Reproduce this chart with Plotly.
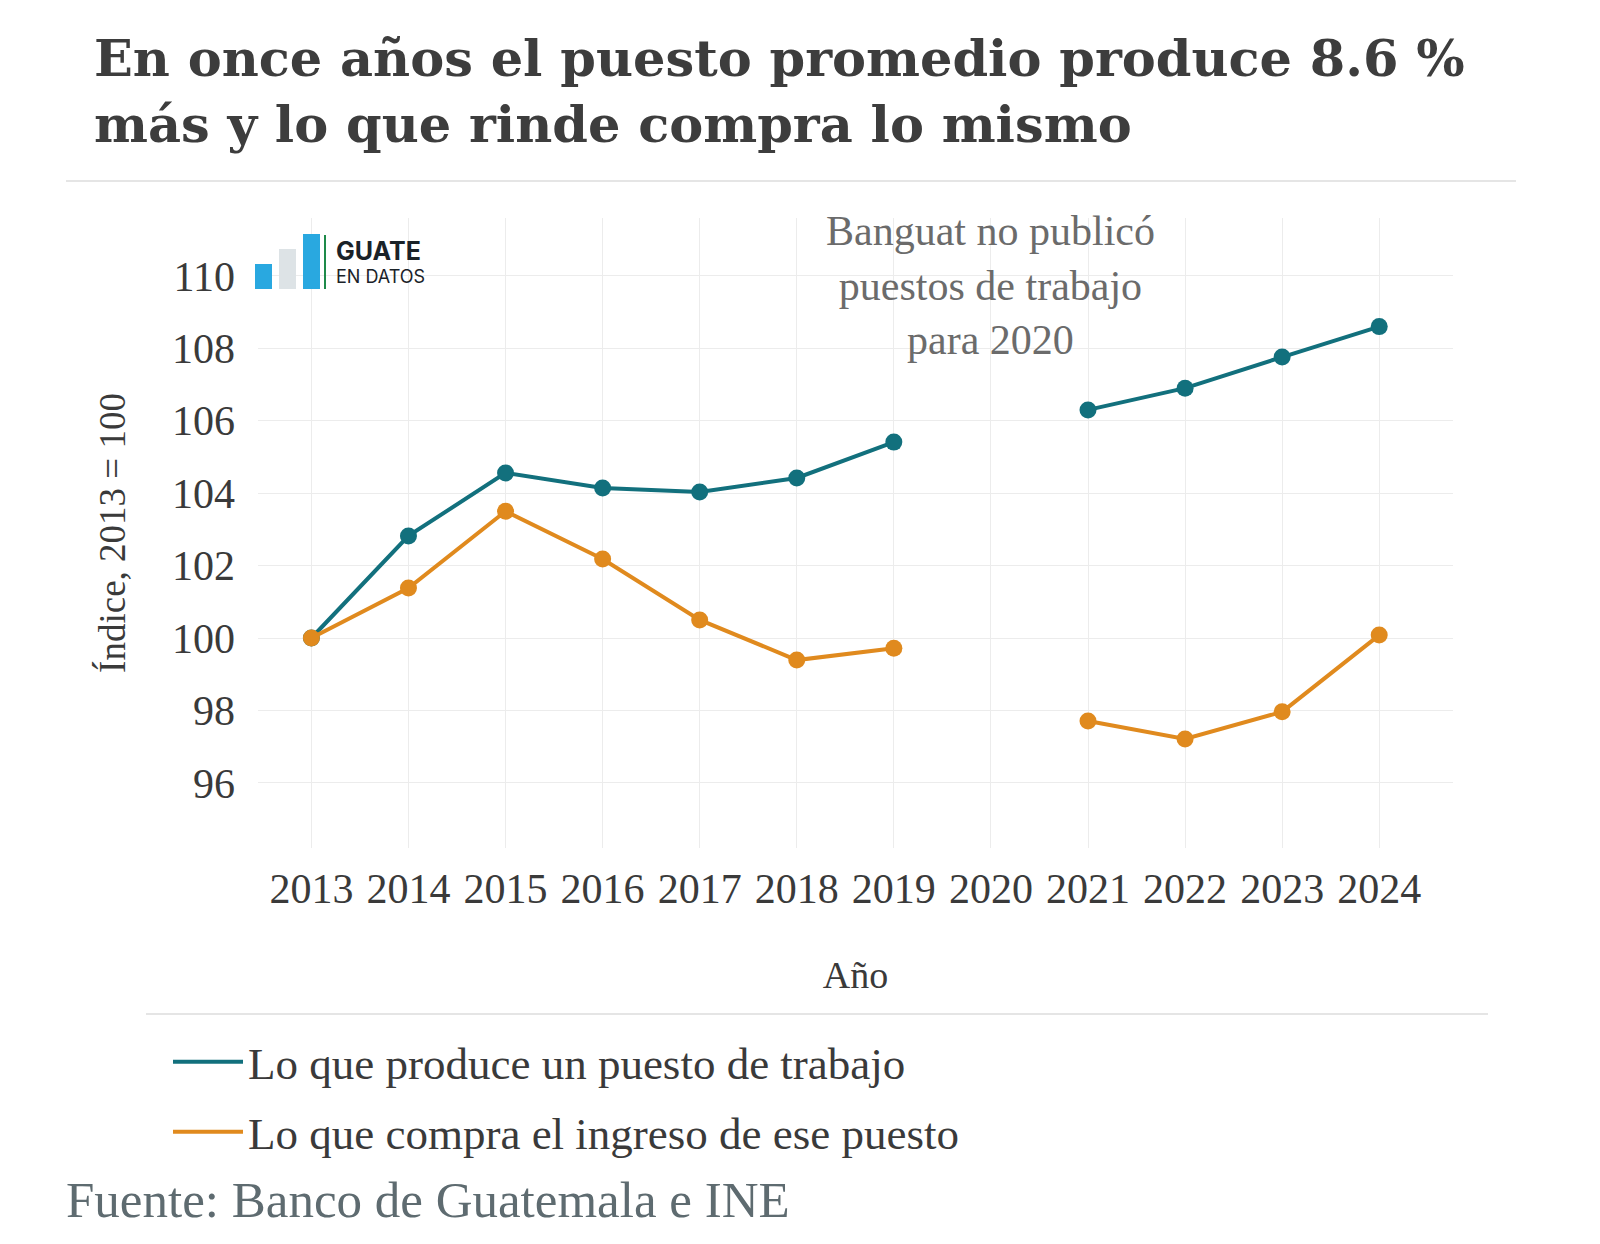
import plotly.graph_objects as go

years = [2013, 2014, 2015, 2016, 2017, 2018, 2019, 2020, 2021, 2022, 2023, 2024]
produce = [100, 102.82, 104.56, 104.14, 104.03, 104.42, 105.41, None, 106.3, 106.9, 107.76, 108.6]
compra = [100, 101.38, 103.5, 102.18, 100.5, 99.39, 99.72, None, 97.71, 97.21, 97.96, 100.08]
yticks = [96, 98, 100, 102, 104, 106, 108, 110]
names = ["Lo que produce un puesto de trabajo", "Lo que compra el ingreso de ese puesto"]
colors = ["#12707d", "#e08a1e"]

F = "Liberation Serif"
L, R, T, B = 250, 1445, 210, 840
def px(x): return (x - L) / (R - L)
def py(y): return (B - y) / (B - T)

fig = go.Figure()
for i, vals in enumerate([produce, compra]):
    fig.add_trace(go.Scatter(x=years, y=vals, mode="lines+markers", showlegend=False,
                             line=dict(color=colors[i], width=4), marker=dict(size=17, color=colors[i])))
    fig.add_trace(go.Scatter(x=[None], y=[None], mode="lines", name=names[i],
                             legend="legend" if i == 0 else "legend2",
                             line=dict(color=colors[i], width=4)))

fig.update_layout(
    width=1600, height=1244, plot_bgcolor="white", paper_bgcolor="white",
    margin=dict(l=L, r=1600 - R, t=T, b=1244 - B),
    font=dict(family=F, size=42, color="#3a3a3a"),
    title=dict(text="<b>En once años el puesto promedio produce 8.6 %<br>más y lo que rinde compra lo mismo</b>",
               x=86 / 1600, xanchor="left", y=1 - 68 / 1244, yanchor="top",
               font=dict(family="DejaVu Serif", size=51, color="#3d3d3d")),
    xaxis=dict(range=[2012.45, 2024.76], tickvals=years, gridcolor="#ececec", showline=False, zeroline=False,
               ticks="", ticklabelstandoff=12,
               title=dict(text="Año", font=dict(size=38), standoff=50)),
    yaxis=dict(range=[94.2, 111.6], tickvals=yticks, gridcolor="#ececec", zeroline=False, ticks="",
               ticklabelstandoff=22,
               title=dict(text="Índice, 2013 = 100", font=dict(size=37), standoff=35)),
    legend=dict(x=px(160), xanchor="left", y=py(1054), yanchor="middle", font=dict(size=45), itemwidth=70),
    legend2=dict(x=px(160), xanchor="left", y=py(1124), yanchor="middle", font=dict(size=45), itemwidth=70),
)
fig.add_annotation(x=2020, y=py(198), xref="x", yref="paper", yanchor="top", showarrow=False,
                   text="Banguat no publicó<br>puestos de trabajo<br>para 2020",
                   font=dict(size=42, color="#6b6b6b"))
fig.add_annotation(x=px(56), y=py(1192), xref="paper", yref="paper", xanchor="left", yanchor="middle",
                   showarrow=False, text="Fuente: Banco de Guatemala e INE",
                   font=dict(size=51, color="#5e6b70"))
fig.add_shape(type="line", xref="paper", yref="paper", x0=px(58), x1=px(1508), y0=py(173), y1=py(173),
              line=dict(color="#dcdcdc", width=1.5))
fig.add_shape(type="line", xref="paper", yref="paper", x0=px(138), x1=px(1480), y0=py(1006), y1=py(1006),
              line=dict(color="#dcdcdc", width=1.5))
def rect(x0, y0, x1, y1, c):
    fig.add_shape(type="rect", xref="paper", yref="paper", x0=px(x0), x1=px(x1), y0=py(y1), y1=py(y0),
                  line=dict(width=0), fillcolor=c)
rect(247, 256, 264, 281, "#29a8e0")
rect(271, 241, 288, 281, "#dde3e6")
rect(295, 226, 312, 281, "#29a8e0")
rect(316, 227, 318, 281, "#1e8a4a")
fig.add_annotation(x=px(326), y=py(243), xref="paper", yref="paper", xanchor="left", yanchor="middle",
                   showarrow=False, text="<b>GUATE</b>", font=dict(family="Inter", size=25, color="#1a2228"))
fig.add_annotation(x=px(326), y=py(268), xref="paper", yref="paper", xanchor="left", yanchor="middle",
                   showarrow=False, text="EN DATOS", font=dict(family="Inter", size=18, color="#1a2228"))
fig.write_html("out.html")
